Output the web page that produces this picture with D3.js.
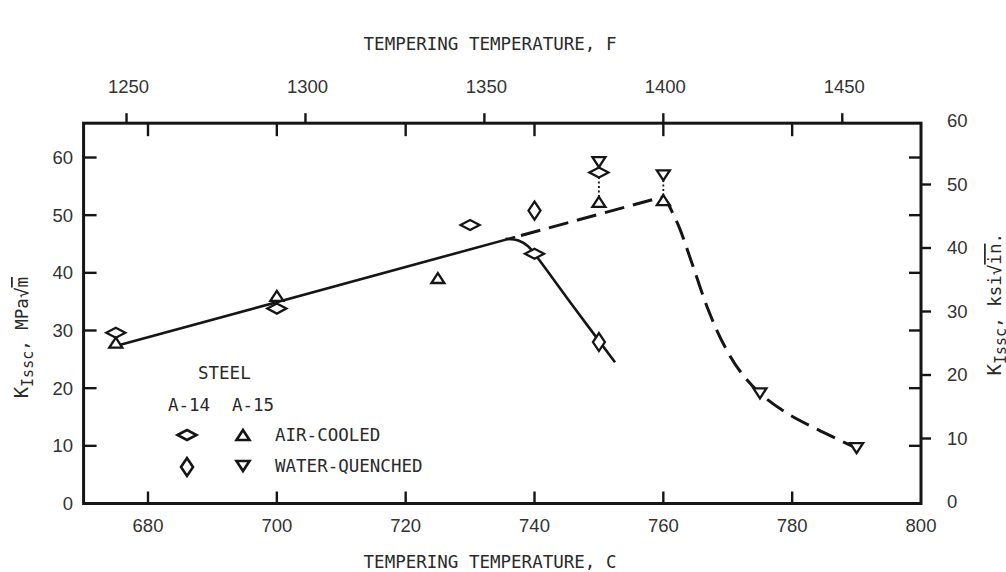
<!DOCTYPE html>
<html>
<head>
<meta charset="utf-8">
<script src="https://cdn.jsdelivr.net/npm/d3@7"></script>
<style>
  html, body { margin: 0; padding: 0; background: #ffffff; }
  svg { display: block; }
  .mono { font-family: "DejaVu Sans Mono", monospace; fill: #2a2a2a; }
  .num { font-family: "Liberation Sans", Arial, sans-serif; fill: #333; }
</style>
</head>
<body>
<svg id="chart" width="1006" height="572"></svg>
<script>
// Tempering temperature (C) vs K_Issc (MPa sqrt m)
const a14AirCooled = [
  { t: 675, k: 29.6 }, { t: 700, k: 33.8 }, { t: 730, k: 48.3 },
  { t: 740, k: 43.3 }, { t: 750, k: 57.4 }
];
const a14WaterQuenched = [
  { t: 740, k: 50.8 }, { t: 750, k: 28.0 }
];
const a15AirCooled = [
  { t: 675, k: 27.9 }, { t: 700, k: 36.0 }, { t: 725, k: 39.1 },
  { t: 750, k: 52.3 }, { t: 760, k: 52.6 }
];
const a15WaterQuenched = [
  { t: 750, k: 59.2 }, { t: 760, k: 56.9 }, { t: 775, k: 19.1 }, { t: 790, k: 9.6 }
];

// trend curves
const trendSolid  = [[675, 27.3], [737, 46.2]];
const trendDashed = [[737, 46.2], [760, 53.2]];
const dropA14 = [[735.5, 45.9], [737.5, 45.6], [739, 44.6], [740, 43.3], [746, 34.2], [752.5, 24.5]];
const dropA15 = [[759.6, 53.1], [760.6, 52.2], [761.5, 50.2], [762.5, 47.8], [764.5, 41.5],
                 [767, 33.5], [769.5, 27.3], [772, 22.8], [775, 19.1], [779, 15.8],
                 [784, 12.8], [790, 9.6]];
const dottedLinks = [
  [[750, 57.4], [750, 52.3]],
  [[760, 56.9], [760, 52.6]]
];

// axis ticks
const cTicks = [680, 700, 720, 740, 760, 780, 800];
const fTicks = [1250, 1300, 1350, 1400, 1450];
const mpaTicks = [0, 10, 20, 30, 40, 50, 60];
const ksiTicks = [0, 10, 20, 30, 40, 50, 60];

const svg = d3.select("#chart");

const x = d3.scaleLinear().domain([680, 800]).range([148, 921]);
const y = d3.scaleLinear().domain([0, 60]).range([503.5, 157.5]);
const yKsi = d3.scaleLinear().domain([0, 60]).range([502, 121]);
const fToC = f => (f - 32) * 5 / 9;

const frameL = x(670), frameR = x(800), frameT = y(65.95), frameB = y(0);

// frame
const ink = "#151515";
svg.append("rect")
  .attr("x", frameL).attr("y", frameT)
  .attr("width", frameR - frameL).attr("height", frameB - frameT)
  .attr("fill", "none").attr("stroke", ink).attr("stroke-width", 3);

const tickLine = (x1, y1, x2, y2) =>
  svg.append("line").attr("x1", x1).attr("y1", y1).attr("x2", x2).attr("y2", y2)
    .attr("stroke", ink).attr("stroke-width", 2.4);

// bottom: inward C ticks, mirrored on top
cTicks.filter(d => d < 800).forEach(d => {
  tickLine(x(d), frameB, x(d), frameB - 12);
  tickLine(x(d), frameT, x(d), frameT + 13);
});
cTicks.forEach(d => {
  svg.append("text").attr("class", "num")
    .attr("x", x(d)).attr("y", 532).attr("text-anchor", "middle")
    .attr("font-size", 18.5).text(d);
});

// top: outward F ticks
fTicks.forEach(f => {
  const px = x(fToC(f));
  tickLine(px, frameT, px, frameT - 10);
  svg.append("text").attr("class", "num")
    .attr("x", px + 2).attr("y", 93).attr("text-anchor", "middle")
    .attr("font-size", 18.5).text(f);
});

// left: inward MPa ticks, mirrored on the right
mpaTicks.forEach(d => {
  if (d > 0) {
    tickLine(frameL, y(d), frameL + 13, y(d));
    tickLine(frameR, y(d), frameR - 12, y(d));
  }
  svg.append("text").attr("class", "num")
    .attr("x", 73).attr("y", y(d)).attr("dy", "0.35em")
    .attr("text-anchor", "end").attr("font-size", 18.5).text(d);
});

// right: outward ksi ticks
ksiTicks.forEach(d => {
  if (d > 0 && d < 60) tickLine(frameR, yKsi(d), frameR + 10, yKsi(d));
  svg.append("text").attr("class", "num")
    .attr("x", 947).attr("y", yKsi(d)).attr("dy", "0.35em")
    .attr("font-size", 18.5).text(d);
});

// axis titles
svg.append("text").attr("class", "mono")
  .attr("x", 490).attr("y", 50).attr("text-anchor", "middle")
  .attr("font-size", 17.5).text("TEMPERING TEMPERATURE, F");
svg.append("text").attr("class", "mono")
  .attr("x", 490).attr("y", 568).attr("text-anchor", "middle")
  .attr("font-size", 17.5).text("TEMPERING TEMPERATURE, C");

function kLabel(tx, ty, unitA, unitB, unitC) {
  const t = svg.append("text").attr("class", "mono")
    .attr("transform", `translate(${tx},${ty}) rotate(-90)`)
    .attr("text-anchor", "end").attr("font-size", 17.5);
  t.append("tspan").attr("font-size", 19).text("K");
  t.append("tspan").attr("font-size", 15).attr("dy", 5).text("Issc");
  t.append("tspan").attr("dy", -5).text(", " + unitA);
  t.append("tspan").text("\u221A");
  t.append("tspan").attr("text-decoration", "overline").text(unitB);
  if (unitC) t.append("tspan").text(unitC);
}
kLabel(28, 277, "MPa", "m", null);
kLabel(1001, 233, "ksi", "in", ".");

// curves
const line = d3.line().x(d => x(d[0])).y(d => y(d[1]));
const smooth = d3.line().x(d => x(d[0])).y(d => y(d[1])).curve(d3.curveCatmullRom.alpha(0.5));

svg.append("path").attr("d", line(trendSolid))
  .attr("fill", "none").attr("stroke", ink).attr("stroke-width", 2.6);
svg.append("path").attr("d", line(trendDashed))
  .attr("fill", "none").attr("stroke", ink).attr("stroke-width", 3)
  .attr("stroke-dasharray", "20 9").attr("stroke-dashoffset", -6);
svg.append("path").attr("d", smooth(dropA14))
  .attr("fill", "none").attr("stroke", ink).attr("stroke-width", 2.6);
svg.append("path").attr("d", smooth(dropA15))
  .attr("fill", "none").attr("stroke", ink).attr("stroke-width", 3)
  .attr("stroke-dasharray", "20 9");
dottedLinks.forEach(seg => {
  svg.append("path").attr("d", line(seg))
    .attr("fill", "none").attr("stroke", ink).attr("stroke-width", 1.8)
    .attr("stroke-dasharray", "2 2.5");
});

// marker shapes
const shapes = {
  diamondWide: (w = 19, h = 10) => `M${-w/2},0L0,${-h/2}L${w/2},0L0,${h/2}Z`,
  diamondTall: (w = 12, h = 18) => `M${-w/2},0L0,${-h/2}L${w/2},0L0,${h/2}Z`,
  triUp: (w = 13, h = 10) => `M0,${-h/2}L${w/2},${h/2}L${-w/2},${h/2}Z`,
  triDown: (w = 13, h = 10) => `M${-w/2},${-h/2}L${w/2},${-h/2}L0,${h/2}Z`
};

function drawMarkers(data, shape) {
  svg.append("g").selectAll("path").data(data).join("path")
    .attr("transform", d => `translate(${x(d.t)},${y(d.k)})`)
    .attr("d", shape())
    .attr("fill", "#fff").attr("stroke", ink).attr("stroke-width", 2.3)
    .attr("stroke-linejoin", "miter");
}
drawMarkers(a14AirCooled, shapes.diamondWide);
drawMarkers(a14WaterQuenched, shapes.diamondTall);
drawMarkers(a15AirCooled, shapes.triUp);
drawMarkers(a15WaterQuenched, shapes.triDown);

// legend
const legend = svg.append("g");
legend.append("text").attr("class", "mono").attr("x", 198).attr("y", 379)
  .attr("font-size", 17.5).text("STEEL");
legend.append("text").attr("class", "mono").attr("x", 168).attr("y", 411)
  .attr("font-size", 17.5).text("A-14");
legend.append("text").attr("class", "mono").attr("x", 232).attr("y", 411)
  .attr("font-size", 17.5).text("A-15");
const legMarks = [
  { cx: 187, cy: 435, s: shapes.diamondWide },
  { cx: 243, cy: 435, s: shapes.triUp },
  { cx: 187, cy: 467, s: shapes.diamondTall },
  { cx: 243, cy: 466, s: shapes.triDown }
];
legMarks.forEach(m => {
  legend.append("path").attr("transform", `translate(${m.cx},${m.cy})`)
    .attr("d", m.s()).attr("fill", "#fff").attr("stroke", ink).attr("stroke-width", 2.6);
});
legend.append("text").attr("class", "mono").attr("x", 275).attr("y", 441)
  .attr("font-size", 17.5).text("AIR-COOLED");
legend.append("text").attr("class", "mono").attr("x", 275).attr("y", 472)
  .attr("font-size", 17.5).text("WATER-QUENCHED");
</script>
</body>
</html>
